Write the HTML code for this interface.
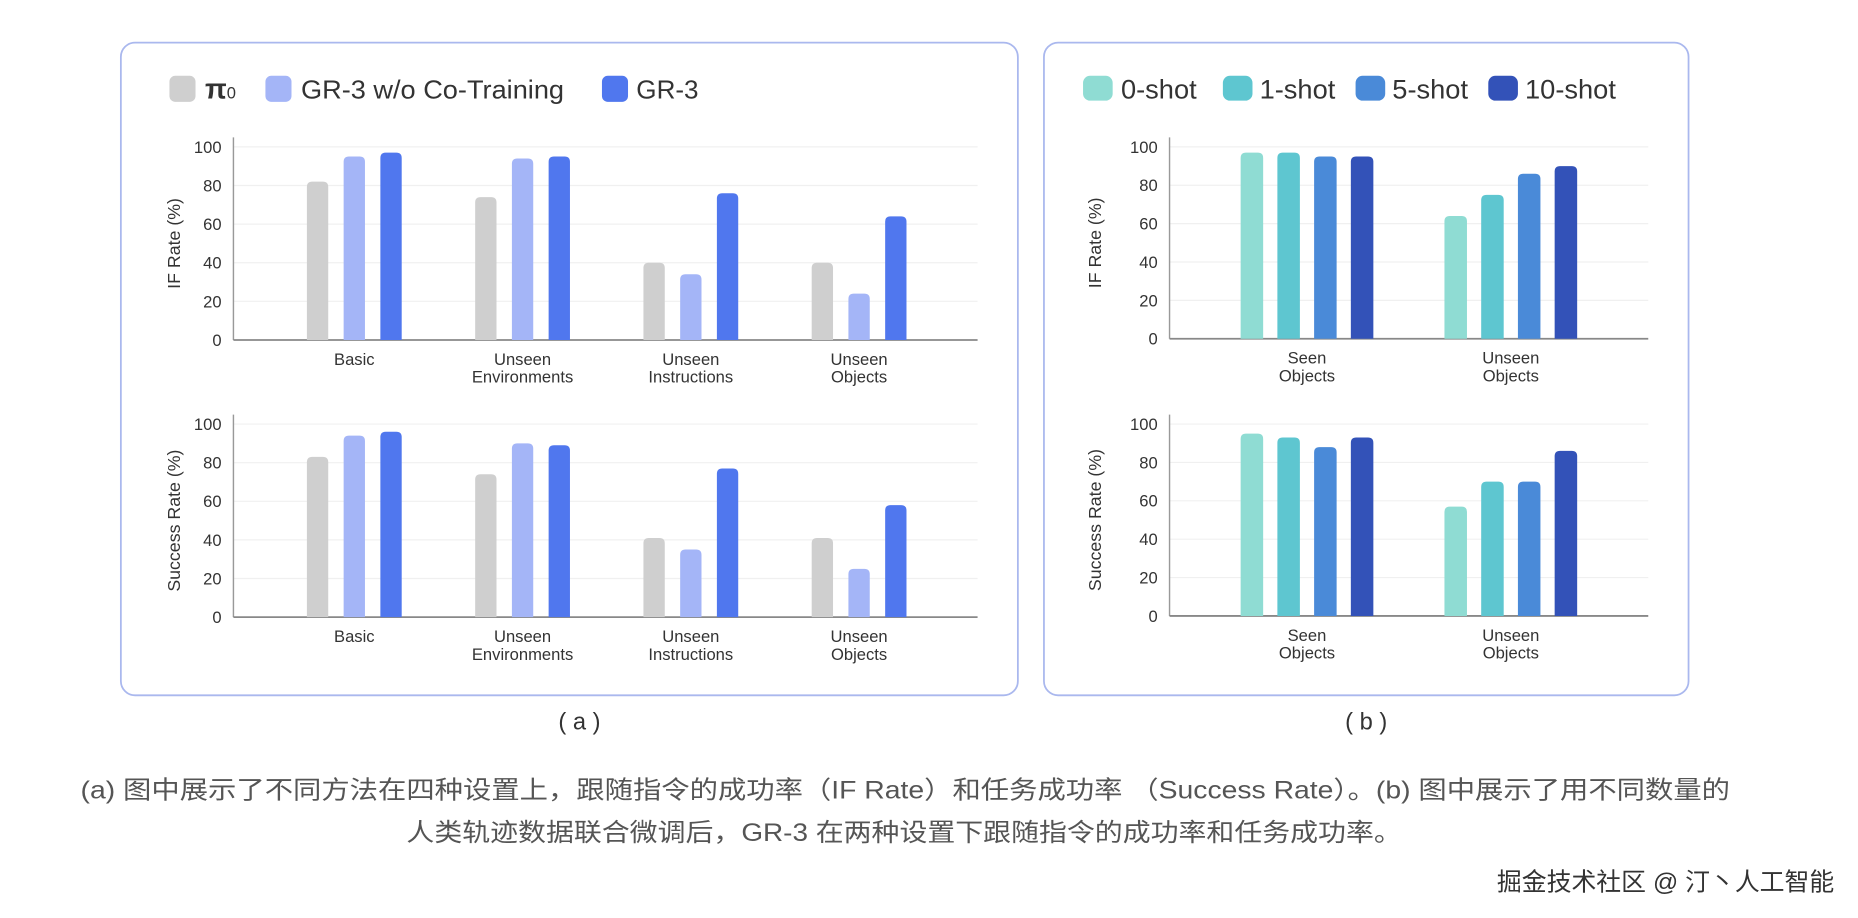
<!DOCTYPE html>
<html><head><meta charset="utf-8"><style>
html,body{margin:0;padding:0;background:#fff;width:1858px;height:918px;overflow:hidden}
svg{display:block}
text{font-family:"Liberation Sans","Noto Sans CJK SC",sans-serif}
</style></head><body>
<svg id="fig" width="1858" height="918" viewBox="0 0 1568 775" preserveAspectRatio="none">
<rect x="102" y="36" width="757" height="551" rx="12" fill="#fff" stroke="#aab8ee" stroke-width="1.5"/>
<rect x="881" y="36" width="544" height="551" rx="12" fill="#fff" stroke="#aab8ee" stroke-width="1.5"/>
<g>
<rect x="143" y="64" width="22" height="22" rx="5" fill="#cfcfcf"/>
<text x="173" y="83" font-size="24" fill="#333" font-family="Liberation Serif,serif" font-weight="bold">π<tspan font-size="14" font-weight="normal">0</tspan></text>
<rect x="224" y="64" width="22" height="22" rx="5" fill="#a4b5f7"/>
<text x="254" y="83" font-size="22" fill="#333" textLength="222" lengthAdjust="spacingAndGlyphs">GR-3 w/o Co-Training</text>
<rect x="508" y="64" width="22" height="22" rx="5" fill="#5077ee"/>
<text x="537" y="83" font-size="22" fill="#333">GR-3</text>
</g>
<g>
<rect x="914" y="64" width="25" height="21" rx="6" fill="#8fdcd3"/>
<text x="946" y="83" font-size="23" fill="#333">0-shot</text>
<rect x="1032" y="64" width="25" height="21" rx="6" fill="#5ec6d0"/>
<text x="1063" y="83" font-size="23" fill="#333">1-shot</text>
<rect x="1144" y="64" width="25" height="21" rx="6" fill="#4a8ad8"/>
<text x="1175" y="83" font-size="23" fill="#333">5-shot</text>
<rect x="1256" y="64" width="25" height="21" rx="6" fill="#3352b8"/>
<text x="1287" y="83" font-size="23" fill="#333">10-shot</text>
</g>
<g id="charts"></g>
<text x="489" y="616" font-size="20" fill="#333" text-anchor="middle">( a )</text>
<text x="1153" y="616" font-size="20" fill="#333" text-anchor="middle">( b )</text>
<text x="68" y="674" font-size="21" fill="#555" textLength="1392" lengthAdjust="spacingAndGlyphs">(a) 图中展示了不同方法在四种设置上，跟随指令的成功率（IF Rate）和任务成功率 （Success Rate）。(b) 图中展示了用不同数量的</text>
<text x="343" y="710" font-size="21" fill="#555" textLength="840" lengthAdjust="spacingAndGlyphs">人类轨迹数据联合微调后，GR-3 在两种设置下跟随指令的成功率和任务成功率。</text>
<text x="1548" y="752" font-size="21" fill="#333" text-anchor="end">掘金技术社区 @ 汀丶人工智能</text>
</svg>
<script>
const catsA = [["Basic"],["Unseen","Environments"],["Unseen","Instructions"],["Unseen","Objects"]];
const pi0IF = [82,74,40,40];
const woIF = [95,94,34,24];
const gr3IF = [97,95,76,64];
const pi0SR = [83,74,41,41];
const woSR = [94,90,35,25];
const gr3SR = [96,89,77,58];
const catsB = [["Seen","Objects"],["Unseen","Objects"]];
const shot0IF = [97,64];
const shot1IF = [97,75];
const shot5IF = [95,86];
const shot10IF = [95,90];
const shot0SR = [95,57];
const shot1SR = [93,70];
const shot5SR = [88,70];
const shot10SR = [93,86];
const yTicks = [0,20,40,60,80,100];

const NS="http://www.w3.org/2000/svg";
const root=document.getElementById('charts');
function mk(tag,attrs,parent){const e=document.createElementNS(NS,tag);for(const k in attrs)e.setAttribute(k,attrs[k]);parent.appendChild(e);return e;}

function chart(opt){
  const g=mk('g',{},root);
  
  
  const y=v=>opt.y0-(opt.y0-opt.y100)*v/100;
  const x=i=>opt.c0+opt.step*i;
  yTicks.forEach(t=>{
    if(t>0){const l=mk('line',{x1:opt.ax,x2:opt.xEnd,y1:y(t),y2:y(t),stroke:'#f0f0f0','stroke-width':1},g);
    
    }
    const tx=mk('text',{x:opt.ax-10,y:y(t)+5,'font-size':14,fill:'#333','text-anchor':'end'},g);
    tx.textContent=t;
    
    
  });
  const ya=mk('line',{x1:opt.ax,x2:opt.ax,y1:opt.y100-8,y2:opt.y0,stroke:'#999','stroke-width':1.2},g);
  
  
  const xa=mk('line',{x1:opt.ax,x2:opt.xEnd,y1:opt.y0,y2:opt.y0,stroke:'#888','stroke-width':1.5},g);
  
  
  const n=opt.series.length;
  opt.series.forEach((s,si)=>{
    s.vals.forEach((v,i)=>{
      const cx=x(i)+(si-(n-1)/2)*opt.off;
      const top=y(v),w=opt.bw,r=4.5;
      const d=`M${cx-w/2},${opt.y0}V${top+r}Q${cx-w/2},${top} ${cx-w/2+r},${top}H${cx+w/2-r}Q${cx+w/2},${top} ${cx+w/2},${top+r}V${opt.y0}Z`;
      const b=mk('path',{d:d,fill:s.color},g);
      
      
    });
  });
  opt.cats.forEach((c,i)=>{
    c.forEach((line,li)=>{
      const t=mk('text',{x:x(i),y:opt.y0+21+li*15,'font-size':14,fill:'#333','text-anchor':'middle'},g);
      t.textContent=line;
      
      
    });
  });
  const yc=(opt.y0+opt.y100)/2;
  const tt=mk('text',{x:opt.tx,y:yc,'font-size':15,fill:'#333','text-anchor':'middle',transform:`rotate(-90 ${opt.tx} ${yc})`},g);
  tt.textContent=opt.title;
  
  
}
const cA=['#cfcfcf','#a4b5f7','#5077ee'];
const cB=['#8fdcd3','#5ec6d0','#4a8ad8','#3352b8'];
chart({name:'chart-a-if',ax:197,xEnd:825,y0:287,y100:124,c0:299,step:142,off:31,bw:18,cats:catsA,title:'IF Rate (%)',tx:152,
  series:[{key:'pi0',vals:pi0IF,color:cA[0]},{key:'gr3-wo',vals:woIF,color:cA[1]},{key:'gr3',vals:gr3IF,color:cA[2]}]});
chart({name:'chart-a-success',ax:197,xEnd:825,y0:521,y100:358,c0:299,step:142,off:31,bw:18,cats:catsA,title:'Success Rate (%)',tx:152,
  series:[{key:'pi0',vals:pi0SR,color:cA[0]},{key:'gr3-wo',vals:woSR,color:cA[1]},{key:'gr3',vals:gr3SR,color:cA[2]}]});
chart({name:'chart-b-if',ax:987,xEnd:1391,y0:286,y100:124,c0:1103,step:172,off:31,bw:19,cats:catsB,title:'IF Rate (%)',tx:929,
  series:[{key:'0shot',vals:shot0IF,color:cB[0]},{key:'1shot',vals:shot1IF,color:cB[1]},{key:'5shot',vals:shot5IF,color:cB[2]},{key:'10shot',vals:shot10IF,color:cB[3]}]});
chart({name:'chart-b-success',ax:987,xEnd:1391,y0:520,y100:358,c0:1103,step:172,off:31,bw:19,cats:catsB,title:'Success Rate (%)',tx:929,
  series:[{key:'0shot',vals:shot0SR,color:cB[0]},{key:'1shot',vals:shot1SR,color:cB[1]},{key:'5shot',vals:shot5SR,color:cB[2]},{key:'10shot',vals:shot10SR,color:cB[3]}]});
</script>
</body></html>
